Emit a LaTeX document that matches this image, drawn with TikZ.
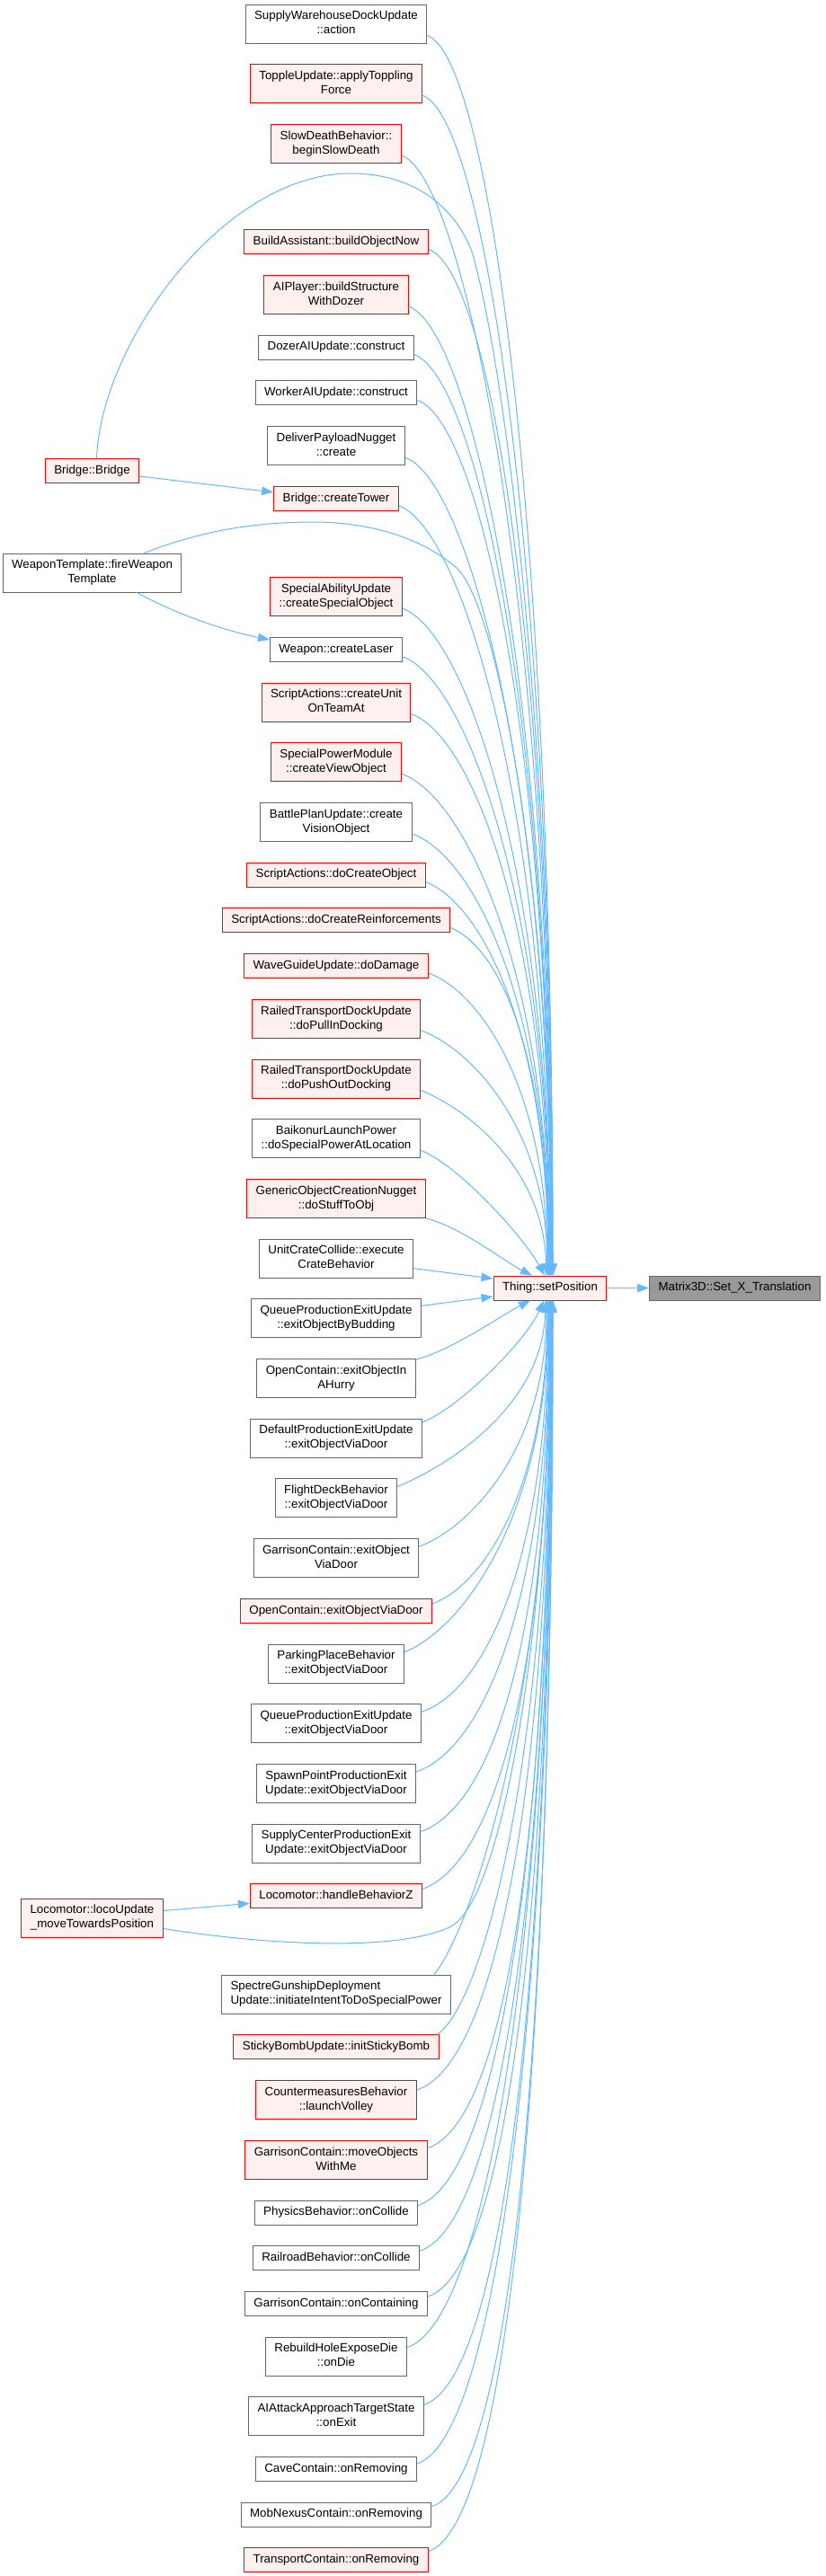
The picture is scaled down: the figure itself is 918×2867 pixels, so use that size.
\documentclass[tikz,border=0pt]{standalone}
\usepackage{fontspec}
\setmainfont{Liberation Sans}
\usetikzlibrary{arrows.meta,calc}
\definecolor{edgeblue}{HTML}{63B8FF}
\definecolor{redfill}{HTML}{FFF0F0}
\definecolor{grayborder}{HTML}{666666}
\definecolor{rootfill}{HTML}{999999}
\newcommand\twoln[2]{\strut#1\\#2\strut}
\newcommand\upE[7]{\draw[cline] ($(#1.south east)+(0,-#2)$) .. controls +(#3,#4) and +(#5,#6) .. ($(th.north)+(#7,0)$);}
\newcommand\loE[7]{\draw[cline] ($(#1.north east)+(0,#2)$) .. controls +(#3,#4) and +(#5,#6) .. ($(th.south)+(#7,0)$);}
\tikzset{
 nbase/.style={rectangle, line width=0.75bp, inner xsep=7.5bp, inner ysep=0pt, align=center, font=\fontsize{10bp}{12bp}\selectfont},
 gn/.style={nbase, draw=grayborder, fill=white},
 rn/.style={nbase, draw=red, fill=redfill},
 sone/.style={minimum height=20.25bp},
 stwo/.style={minimum height=32.25bp},
 cline/.style={draw=edgeblue, line width=0.75bp, -{Triangle[length=9.75bp,width=7bp]}},
}
\begin{document}
\begin{tikzpicture}[x=0.75bp,y=-0.75bp]
\fill[white] (0,0) rectangle (918,2867);
\useasboundingbox (0,0) rectangle (918,2867);
% central column
\node[gn,stwo] (n1) at (374,26.5) {\twoln{SupplyWarehouseDockUpdate}{::action}};
\node[rn,stwo] (n2) at (374,93.2) {\twoln{ToppleUpdate::applyToppling}{Force}};
\node[rn,stwo] (n3) at (374,159.9) {\twoln{SlowDeathBehavior::}{beginSlowDeath}};
\node[rn,sone] (n4) at (374,269.3) {\strut BuildAssistant::buildObjectNow};
\node[rn,stwo] (n5) at (374,328) {\twoln{AIPlayer::buildStructure}{WithDozer}};
\node[gn,sone] (n6) at (374,386.7) {\strut DozerAIUpdate::construct};
\node[gn,sone] (n7) at (374,437.4) {\strut WorkerAIUpdate::construct};
\node[gn,stwo] (n8) at (374,496.1) {\twoln{DeliverPayloadNugget}{::create}};
\node[rn,sone] (n9) at (374,554.8) {\strut Bridge::createTower};
\node[rn,stwo] (n10) at (374,664.2) {\twoln{SpecialAbilityUpdate}{::createSpecialObject}};
\node[gn,sone] (n11) at (374,722.9) {\strut Weapon::createLaser};
\node[rn,stwo] (n12) at (374,781.6) {\twoln{ScriptActions::createUnit}{OnTeamAt}};
\node[rn,stwo] (n13) at (374,848.3) {\twoln{SpecialPowerModule}{::createViewObject}};
\node[gn,stwo] (n14) at (374,915) {\twoln{BattlePlanUpdate::create}{VisionObject}};
\node[rn,sone] (n15) at (374,973.7) {\strut ScriptActions::doCreateObject};
\node[rn,sone] (n16) at (374,1024.4) {\strut ScriptActions::doCreateReinforcements};
\node[rn,sone] (n17) at (374,1075.1) {\strut WaveGuideUpdate::doDamage};
\node[rn,stwo] (n18) at (374,1133.8) {\twoln{RailedTransportDockUpdate}{::doPullInDocking}};
\node[rn,stwo] (n19) at (374,1200.5) {\twoln{RailedTransportDockUpdate}{::doPushOutDocking}};
\node[gn,stwo] (n20) at (374,1267.2) {\twoln{BaikonurLaunchPower}{::doSpecialPowerAtLocation}};
\node[rn,stwo] (n21) at (374,1333.9) {\twoln{GenericObjectCreationNugget}{::doStuffToObj}};
\node[gn,stwo] (n22) at (374,1400.6) {\twoln{UnitCrateCollide::execute}{CrateBehavior}};
\node[gn,stwo] (n23) at (374,1467.3) {\twoln{QueueProductionExitUpdate}{::exitObjectByBudding}};
\node[gn,stwo] (n24) at (374,1534) {\twoln{OpenContain::exitObjectIn}{AHurry}};
\node[gn,stwo] (n25) at (374,1600.7) {\twoln{DefaultProductionExitUpdate}{::exitObjectViaDoor}};
\node[gn,stwo] (n26) at (374,1667.4) {\twoln{FlightDeckBehavior}{::exitObjectViaDoor}};
\node[gn,stwo] (n27) at (374,1734.1) {\twoln{GarrisonContain::exitObject}{ViaDoor}};
\node[rn,sone] (n28) at (374,1792.8) {\strut OpenContain::exitObjectViaDoor};
\node[gn,stwo] (n29) at (374,1851.5) {\twoln{ParkingPlaceBehavior}{::exitObjectViaDoor}};
\node[gn,stwo] (n30) at (374,1918.2) {\twoln{QueueProductionExitUpdate}{::exitObjectViaDoor}};
\node[gn,stwo] (n31) at (374,1984.9) {\twoln{SpawnPointProductionExit}{Update::exitObjectViaDoor}};
\node[gn,stwo] (n32) at (374,2051.6) {\twoln{SupplyCenterProductionExit}{Update::exitObjectViaDoor}};
\node[rn,sone] (n33) at (374,2110.3) {\strut Locomotor::handleBehaviorZ};
\node[gn,stwo,align=left] (n34) at (374,2219.7) {\twoln{SpectreGunshipDeployment}{Update::initiateIntentToDoSpecialPower}};
\node[rn,sone] (n35) at (374,2278.4) {\strut StickyBombUpdate::initStickyBomb};
\node[rn,stwo] (n36) at (374,2337.1) {\twoln{CountermeasuresBehavior}{::launchVolley}};
\node[rn,stwo] (n37) at (374,2403.8) {\twoln{GarrisonContain::moveObjects}{WithMe}};
\node[gn,sone] (n38) at (374,2462.5) {\strut PhysicsBehavior::onCollide};
\node[gn,sone] (n39) at (374,2513.2) {\strut RailroadBehavior::onCollide};
\node[gn,sone] (n40) at (374,2563.9) {\strut GarrisonContain::onContaining};
\node[gn,stwo] (n41) at (374,2622.6) {\twoln{RebuildHoleExposeDie}{::onDie}};
\node[gn,stwo] (n42) at (374,2689.3) {\twoln{AIAttackApproachTargetState}{::onExit}};
\node[gn,sone] (n43) at (374,2748) {\strut CaveContain::onRemoving};
\node[gn,sone] (n44) at (374,2798.7) {\strut MobNexusContain::onRemoving};
\node[rn,sone] (n45) at (374,2849.4) {\strut TransportContain::onRemoving};
% left column
\node[rn,sone] (bb) at (102.5,524) {\strut Bridge::Bridge};
\node[gn,stwo] (wt) at (102.5,637.5) {\twoln{WeaponTemplate::fireWeapon}{Template}};
\node[rn,stwo] (lu) at (102.5,2134.5) {\twoln{Locomotor::locoUpdate}{\_moveTowardsPosition}};
% focus and root
\node[rn,sone] (th) at (612,1433.5) {\strut Thing::setPosition};
\node[gn,sone,fill=rootfill] (m3) at (817.5,1433.5) {\strut Matrix3D::Set\_X\_Translation};
% edges from above
\upE{n1}{9}{70}{25}{0}{-829}{3}
\upE{n2}{9}{70}{25}{0}{-789}{3}
\upE{n3}{9}{70}{25}{0}{-749}{2}
\upE{n4}{6}{70}{25}{0}{-686}{2}
\upE{n5}{9}{70}{25}{0}{-648}{2}
\upE{n6}{6}{70}{25}{0}{-615}{1}
\upE{n7}{6}{70}{25}{0}{-585}{1}
\upE{n8}{9}{70}{25}{0}{-547}{1}
\upE{n9}{6}{70}{25}{0}{-515}{0}
\upE{n10}{9}{70}{25}{0}{-446}{0}
\upE{n11}{6}{70}{25}{0}{-414}{0}
\upE{n12}{9}{70}{25}{0}{-376}{-1}
\upE{n13}{9}{70}{25}{0}{-335}{-1}
\upE{n14}{9}{70}{25}{0}{-296}{-1}
\upE{n15}{6}{65}{25}{0}{-263}{-2}
\upE{n16}{6}{60}{25}{0}{-233}{-2}
\upE{n17}{6}{60}{22}{0}{-202}{-3}
\upE{n18}{9}{55}{20}{0}{-164}{-3}
\upE{n19}{9}{50}{20}{-3}{-120}{-4}
\upE{n20}{9}{40}{15}{-25}{-45}{-6}
\draw[cline] (n21.south east) .. controls +(40,10) and +(-30,-15) .. ($(th.north)+(-20,0)$);
\draw[cline] ($(n22.east)+(0,11)$) -- ($(th.west)+(0,-10.5)$);
\draw[cline] ($(n23.east)+(0,-14)$) -- ($(th.west)+(0,9.5)$);
\draw[cline] ($(n24.north east)+(0,1)$) .. controls +(40,-10) and +(-30,15) .. ($(th.south)+(-22,0)$);
% edges from below
\loE{n25}{4}{40}{-15}{-20}{45}{-7}
\loE{n26}{9}{50}{-20}{-3}{120}{-5}
\loE{n27}{9}{55}{-20}{0}{165}{-4}
\loE{n28}{6}{60}{-22}{0}{203}{-3}
\loE{n29}{9}{65}{-25}{0}{235}{-2}
\loE{n30}{9}{75}{-25}{0}{275}{-2}
\loE{n31}{9}{80}{-28}{0}{315}{-1}
\loE{n32}{9}{85}{-30}{0}{355}{-1}
\loE{n33}{6}{85}{-30}{0}{394}{0}
\draw[cline] ($(n34.north east)+(-19,0)$) .. controls +(40,-50) and +(0,451) .. ($(th.south)+(1,0)$);
\draw[cline] ($(n35.north east)+(-2,0)$) .. controls +(55,-40) and +(0,491) .. ($(th.south)+(1,0)$);
\loE{n36}{11}{90}{-30}{0}{528}{1}
\loE{n37}{9}{90}{-30}{0}{567}{1}
\loE{n38}{6}{90}{-30}{0}{605}{1}
\loE{n39}{6}{90}{-30}{0}{635}{2}
\loE{n40}{6}{90}{-30}{0}{666}{2}
\loE{n41}{12}{90}{-30}{0}{700}{2}
\loE{n42}{9}{90}{-30}{0}{738}{2}
\loE{n43}{8}{90}{-30}{0}{777}{3}
\loE{n44}{5}{90}{-30}{0}{806}{3}
\loE{n45}{4}{90}{-30}{0}{836}{3}
% left column edges
\draw[cline] ($(bb.east)+(0,6)$) -- ($(n9.west)+(0,-7)$);
\draw[cline] ($(bb.north)+(5,0)$) .. controls +(5,-130) and (250,193) .. (390,193)
   .. controls (470,193) and (510,240) .. (525,280)
   .. controls (560,400) and (615,800) .. ($(th.north)+(3,0)$);
\draw[cline] ($(wt.north)+(58,0)$) .. controls (220,592) and (280,581) .. (348,581)
   .. controls (420,581) and (475,603) .. (508,632)
   .. controls (555,675) and (614,1000) .. ($(th.north)+(2,0)$);
\draw[cline] ($(wt.south)+(50,0)$) .. controls +(43,24) and +(-50,-10) .. ($(n11.west)+(0,-11)$);
\draw[cline] ($(lu.east)+(0,-8)$) -- ($(n33.west)+(0,8)$);
\draw[cline] ($(lu.east)+(0,12)$) .. controls (300,2165) and (440,2172) .. (500,2145)
   .. controls (560,2118) and (612,1800) .. (th.south);
% root edge
\draw[cline] (th.east) -- (m3.west);
\end{tikzpicture}
\end{document}
